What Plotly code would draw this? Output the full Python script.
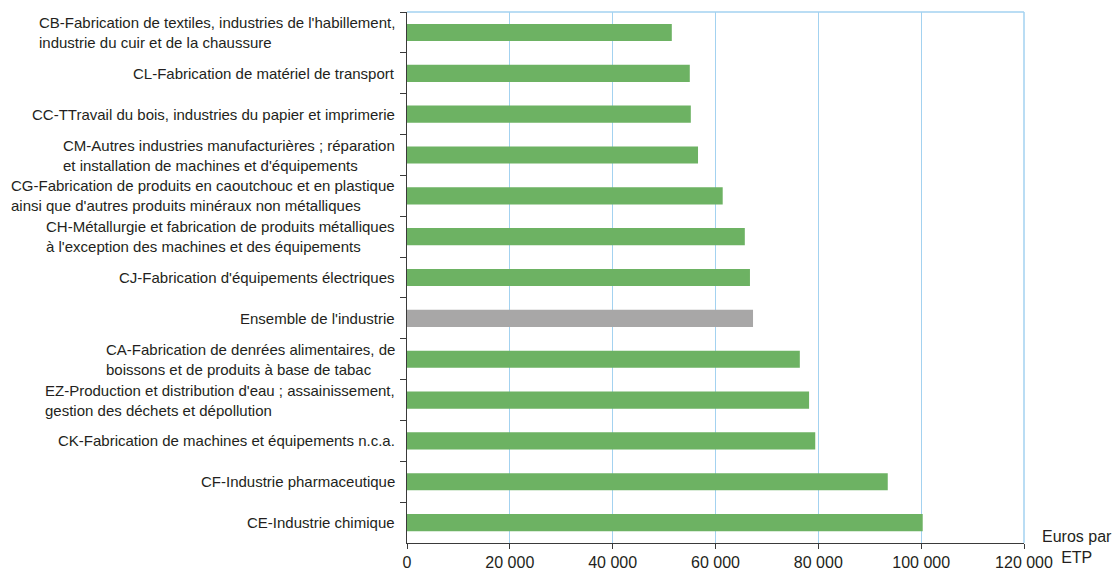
import plotly.graph_objects as go

# Categories, top to bottom
categories = [
    "CB-Fabrication de textiles, industries de l'habillement,<br>industrie du cuir et de la chaussure",
    "CL-Fabrication de matériel de transport",
    "CC-TTravail du bois, industries du papier et imprimerie",
    "CM-Autres industries manufacturières ; réparation<br>et installation de machines et d'équipements",
    "CG-Fabrication de produits en caoutchouc et en plastique<br>ainsi que d'autres produits minéraux non métalliques",
    "CH-Métallurgie et fabrication de produits métalliques<br>à l'exception des machines et des équipements",
    "CJ-Fabrication d'équipements électriques",
    "Ensemble de l'industrie",
    "CA-Fabrication de denrées alimentaires, de<br>boissons et de produits à base de tabac",
    "EZ-Production et distribution d'eau ; assainissement,<br>gestion des déchets et dépollution",
    "CK-Fabrication de machines et équipements n.c.a.",
    "CF-Industrie pharmaceutique",
    "CE-Industrie chimique",
]
values = [51500, 55000, 55200, 56600, 61400, 65700, 66700, 67300, 76400, 78200, 79400, 93500, 100300]
total_label = "Ensemble de l'industrie"

x_ticks = [0, 20000, 40000, 60000, 80000, 100000, 120000]
x_ticktext = ["0", "20 000", "40 000", "60 000", "80 000", "100 000", "120 000"]
unit_label = "Euros par<br>ETP"

GREEN = "#6db263"
GRAY = "#a8a7a7"
GRID = "#a3d2f0"
AXIS = "#3a3a3a"
TEXT = "#231f20"
FONT = "Liberation Sans, Arial, sans-serif"

colors = [GRAY if c == total_label else GREEN for c in categories]

fig = go.Figure()
fig.add_trace(go.Bar(
    x=values,
    y=categories,
    orientation="h",
    marker=dict(color=colors, line=dict(width=0)),
    hoverinfo="x+y",
))

for c in categories:
    fig.add_annotation(
        x=0, xref="paper", y=c, yref="y",
        text=c, showarrow=False,
        xanchor="right", yanchor="middle", align="left",
        xshift=-10,
        font=dict(family=FONT, size=15, color=TEXT),
    )

fig.add_annotation(
    x=1, xref="paper", y=0, yref="paper",
    text=unit_label, showarrow=False,
    xanchor="left", yanchor="middle", align="center",
    xshift=16, yshift=-4,
    font=dict(family=FONT, size=16, color=TEXT),
)

# top and right border
fig.add_shape(type="line", xref="x domain", yref="y domain",
              x0=0, x1=1, y0=1, y1=1, line=dict(color=GRID, width=1.5), layer="below")
fig.add_shape(type="line", xref="x domain", yref="y domain",
              x0=1, x1=1, y0=0, y1=1, line=dict(color=GRID, width=1.5), layer="below")

fig.update_layout(
    width=1113, height=571,
    margin=dict(l=407, r=89, t=12, b=28),
    paper_bgcolor="white", plot_bgcolor="white",
    bargap=0.58,
    showlegend=False,
    font=dict(family=FONT, size=15, color=TEXT),
)
fig.update_xaxes(
    range=[0, 120000],
    tickvals=x_ticks, ticktext=x_ticktext,
    tickfont=dict(family=FONT, size=16, color=TEXT),
    showgrid=True, gridcolor=GRID, gridwidth=1.2,
    zeroline=False,
    showline=True, linecolor=AXIS, linewidth=1.2,
    ticks="outside", ticklen=5, tickcolor=AXIS, tickwidth=1,
    automargin=False,
)
fig.update_yaxes(
    categoryorder="array", categoryarray=categories,
    autorange="reversed",
    showticklabels=False,
    showgrid=False, zeroline=False,
    showline=True, linecolor=AXIS, linewidth=1.2,
    ticks="outside", ticklen=6, tickcolor=AXIS, tickwidth=1,
    tickson="boundaries",
    automargin=False,
)

fig.write_html(
    "out.html",
    config={"displayModeBar": False},
    post_script="document.body.style.margin='0';document.body.style.overflow='hidden';",
)
